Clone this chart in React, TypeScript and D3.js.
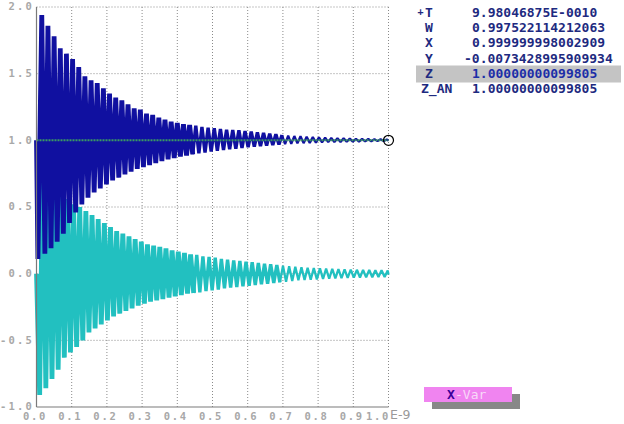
import React from "react";
import * as d3 from "d3";

// ---- data ----
// blue (W): peak values, one per oscillation cycle
const BLUE_PEAKS = [1.94, 1.86, 1.78, 1.69, 1.65, 1.61, 1.55, 1.48, 1.45, 1.43, 1.39, 1.35, 1.32, 1.30, 1.27, 1.24, 1.23, 1.20, 1.19, 1.17, 1.155, 1.14, 1.13, 1.12, 1.115, 1.11, 1.10, 1.095, 1.09, 1.085, 1.08, 1.078, 1.075, 1.07, 1.065, 1.06, 1.055, 1.05, 1.045, 1.04, 1.035, 1.032, 1.03, 1.027, 1.025, 1.022, 1.02, 1.018, 1.016, 1.015, 1.013, 1.012, 1.011, 1.01, 1.009, 1.008, 1.007];
// blue (W): trough values (first one precedes the first peak)
const BLUE_TROUGHS = [0.11, 0.15, 0.19, 0.24, 0.30, 0.38, 0.46, 0.52, 0.57, 0.61, 0.64, 0.67, 0.70, 0.72, 0.745, 0.765, 0.785, 0.80, 0.815, 0.83, 0.845, 0.857, 0.868, 0.878, 0.887, 0.895, 0.902, 0.909, 0.916, 0.922, 0.928, 0.933, 0.938, 0.943, 0.948, 0.953, 0.957, 0.961, 0.965, 0.968, 0.971, 0.974, 0.977, 0.979, 0.981, 0.983, 0.985, 0.986, 0.987, 0.988, 0.989, 0.99, 0.991, 0.992, 0.993, 0.994, 0.995];
// cyan (Y): trough and peak values per cycle
const CYAN_TROUGHS = [-0.91, -0.86, -0.79, -0.72, -0.63, -0.59, -0.55, -0.50, -0.44, -0.41, -0.38, -0.35, -0.32, -0.30, -0.28, -0.26, -0.24, -0.225, -0.21, -0.20, -0.19, -0.18, -0.17, -0.16, -0.15, -0.145, -0.14, -0.13, -0.125, -0.12, -0.11, -0.105, -0.10, -0.095, -0.09, -0.085, -0.08, -0.075, -0.07, -0.065, -0.06, -0.055, -0.05, -0.048, -0.045, -0.043, -0.04, -0.038, -0.036, -0.034, -0.032, -0.03, -0.029, -0.028, -0.027, -0.026, -0.025];
const CYAN_PEAKS = [0.85, 0.78, 0.70, 0.62, 0.56, 0.52, 0.50, 0.47, 0.44, 0.41, 0.38, 0.35, 0.32, 0.30, 0.28, 0.26, 0.24, 0.22, 0.21, 0.20, 0.19, 0.175, 0.165, 0.155, 0.145, 0.14, 0.13, 0.125, 0.12, 0.11, 0.105, 0.10, 0.095, 0.09, 0.085, 0.08, 0.075, 0.07, 0.065, 0.06, 0.056, 0.052, 0.048, 0.045, 0.043, 0.04, 0.038, 0.036, 0.034, 0.032, 0.03, 0.029, 0.028, 0.027, 0.026, 0.025, 0.024];
// cycle timing (units of E-9)
const CYCLE_PERIOD = 0.0175;
const BLUE_FIRST_PEAK = 0.015;
const BLUE_FIRST_TROUGH = 0.004;
const CYAN_FIRST_TROUGH = 0.009;
const START_T = [0];
const END_T = [1.0];
const BLUE_START = [1.0];
const BLUE_END = [0.9975];
const CYAN_START = [0.0];
const CYAN_END = [-0.0073];
// green (Z) constant line
const Z_T = [0, 1.0];
const Z_V = [1.0, 1.0];

const X_TICKS = [0, 0.1, 0.2, 0.3, 0.4, 0.5, 0.6, 0.7, 0.8, 0.9, 1.0];
const Y_TICKS = [2.0, 1.5, 1.0, 0.5, 0.0, -0.5, -1.0];

const LEGEND_LABELS = ["T", "W", "X", "Y", "Z", "Z_AN"];
const LEGEND_VALUES = ["9.98046875E-0010", "0.997522114212063", "0.999999998002909", "-0.0073428995909934", "1.00000000099805", "1.00000000099805"];

const W = 624, H = 424;
// stroke width by time range (style only)
const WIDTH_BREAKS = [0.45, 0.7];
const WIDTHS = [4.8, 3.4, 2.3];

type P = [number, number];

function chunk(pts: P[]): P[][] {
  const out: P[][] = WIDTHS.map(() => []);
  const idx = (t: number) => {
    const c = WIDTH_BREAKS.findIndex((b) => t < b);
    return c < 0 ? WIDTHS.length - 1 : c;
  };
  pts.forEach((p, i) => {
    const c = idx(p[0]);
    out[c].push(p);
    if (i + 1 < pts.length) {
      const c2 = idx(pts[i + 1][0]);
      if (c2 !== c) out[c2].push(p);
    }
  });
  return out;
}

export default function App() {
  const x = d3.scaleLinear().domain([0, 1]).range([36.5, 388.5]);
  const y = d3.scaleLinear().domain([-1, 2]).range([407, 7]);

  const bluePts: P[] = [[START_T[0], BLUE_START[0]], [BLUE_FIRST_TROUGH, BLUE_TROUGHS[0]]];
  BLUE_PEAKS.forEach((p, k) => {
    const tp = BLUE_FIRST_PEAK + k * CYCLE_PERIOD;
    bluePts.push([tp, p]);
    const tt = tp + CYCLE_PERIOD / 2;
    if (k + 1 < BLUE_TROUGHS.length && tt < 1) bluePts.push([tt, BLUE_TROUGHS[k + 1]]);
  });
  bluePts.push([END_T[0], BLUE_END[0]]);

  const cyanPts: P[] = [[START_T[0], CYAN_START[0]]];
  CYAN_TROUGHS.forEach((v, k) => {
    const tt = CYAN_FIRST_TROUGH + k * CYCLE_PERIOD;
    cyanPts.push([tt, v]);
    const tp = tt + CYCLE_PERIOD / 2;
    if (k < CYAN_PEAKS.length && tp < 1) cyanPts.push([tp, CYAN_PEAKS[k]]);
  });
  cyanPts.push([END_T[0], CYAN_END[0]]);

  const line = d3.line<P>().x((d) => x(d[0])).y((d) => y(d[1]));
  const zPts: P[] = Z_T.map((t, i) => [t, Z_V[i]]);

  const labelFont = "'DejaVu Sans Mono', monospace";
  const rowY = (i: number) => 16.7 + i * 15.3;
  const last = X_TICKS.length - 1;

  return (
    <svg width={W} height={H} style={{ position: "absolute", left: 0, top: 0, background: "#fff" }}>
      {/* grid */}
      {X_TICKS.filter((t) => t > 0).map((t) => (
        <line key={"gx" + t} x1={x(t)} x2={x(t)} y1={y(2)} y2={y(-1)} stroke="#8a8a8a" strokeWidth={1} strokeDasharray="1,2" />
      ))}
      {Y_TICKS.filter((v) => v > -1).map((v) => (
        <line key={"gy" + v} x1={x(0)} x2={x(1)} y1={y(v)} y2={y(v)} stroke="#8a8a8a" strokeWidth={1} strokeDasharray="1,2" />
      ))}
      {/* data */}
      {chunk(cyanPts).map((seg, i) => (
        <path key={"c" + i} d={line(seg) || ""} fill="none" stroke="#22c0c0" strokeWidth={WIDTHS[i]} strokeLinejoin="bevel" />
      ))}
      {chunk(bluePts).map((seg, i) => (
        <path key={"b" + i} d={line(seg) || ""} fill="none" stroke="#1010a0" strokeWidth={WIDTHS[i]} strokeLinejoin="bevel" />
      ))}
      <path d={line(zPts) || ""} fill="none" stroke="#3a9a62" strokeWidth={2} strokeDasharray="2,1" />
      <circle cx={x(1)} cy={y(1)} r={5} fill="none" stroke="#000" strokeWidth={1.2} />
      {/* axes */}
      <line x1={x(0)} x2={x(0)} y1={y(2)} y2={y(-1)} stroke="#7a7a7a" strokeWidth={1.2} />
      <line x1={x(0)} x2={x(1)} y1={y(-1)} y2={y(-1)} stroke="#7a7a7a" strokeWidth={1.2} />
      {Y_TICKS.map((v) => (
        <text key={"yl" + v} x={34} y={y(v) + 3.2} textAnchor="end" fontFamily={labelFont} fontWeight="bold" fontSize={10.5} letterSpacing={2.2} fill="#a8a8a8">
          {v.toFixed(1)}
        </text>
      ))}
      {X_TICKS.map((t, i) => (
        <text key={"xl" + t} x={i === last ? x(t) + 1.5 : x(t) - 1.5} y={420} textAnchor={i === last ? "end" : "middle"} fontFamily={labelFont} fontWeight="bold" fontSize={10.5} letterSpacing={1.7} fill="#a8a8a8">
          {t.toFixed(1)}
        </text>
      ))}
      <text x={390} y={419} fontFamily="'DejaVu Sans', sans-serif" fontSize={12.5} fill="#9a9a9a">E-9</text>
      {/* legend */}
      <rect x={416} y={65.5} width={205} height={17} fill="#c4c4c4" />
      {LEGEND_LABELS.map((lab, i) => (
        <text key={"ll" + lab} x={lab.length > 1 ? 421 : 425} y={rowY(i)} fontFamily={labelFont} fontWeight="bold" fontSize={13} fill="#1e2a80">
          {lab}
        </text>
      ))}
      <text x={417.5} y={rowY(0) - 1.5} fontFamily={labelFont} fontWeight="bold" fontSize={10} fill="#1e2a80">+</text>
      {LEGEND_VALUES.map((v, i) => (
        <text key={"lv" + i} x={v.startsWith("-") ? 464 : 472} y={rowY(i)} fontFamily={labelFont} fontWeight="bold" fontSize={13} fill={i === 4 ? "#1c2ea8" : "#1e2a80"}>
          {v}
        </text>
      ))}
      {/* button */}
      <rect x={432} y={394} width={88} height={15} fill="#888888" />
      <rect x={424} y={387} width={88} height={15} fill="#f084f0" />
      <text x={447} y={399} fontFamily={labelFont} fontWeight="bold" fontSize={13} fill="#3a0098">X</text>
      <text x={455} y={399} fontFamily={labelFont} fontSize={13} fill="#f8d8f8">-Var</text>
    </svg>
  );
}
